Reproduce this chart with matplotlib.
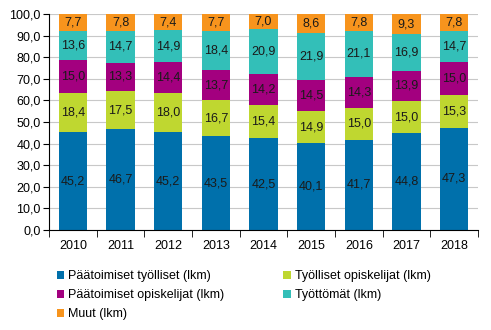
import matplotlib.pyplot as plt
import numpy as np

plt.rcParams['font.family'] = ['Liberation Sans', 'DejaVu Sans']

years = ['2010', '2011', '2012', '2013', '2014', '2015', '2016', '2017', '2018']
tyolliset = [45.2, 46.7, 45.2, 43.5, 42.5, 40.1, 41.7, 44.8, 47.3]
tyol_opisk = [18.4, 17.5, 18.0, 16.7, 15.4, 14.9, 15.0, 15.0, 15.3]
paat_opisk = [15.0, 13.3, 14.4, 13.7, 14.2, 14.5, 14.3, 13.9, 15.0]
tyottomat = [13.6, 14.7, 14.9, 18.4, 20.9, 21.9, 21.1, 16.9, 14.7]
muut = [7.7, 7.8, 7.4, 7.7, 7.0, 8.6, 7.8, 9.3, 7.8]

series = [tyolliset, tyol_opisk, paat_opisk, tyottomat, muut]
labels = ['Päätoimiset työlliset (lkm)', 'Työlliset opiskelijat (lkm)',
          'Päätoimiset opiskelijat (lkm)', 'Työttömät (lkm)', 'Muut (lkm)']
colors = ['#0070AB', '#BFD730', '#A3007F', '#33BFB8', '#F7941D']

fig = plt.figure(figsize=(4.91, 3.30), dpi=100)
ax = fig.add_axes([0.0998, 0.303, 0.8737, 0.6546])

x = np.arange(len(years))
bottom = np.zeros(len(years))
handles = []
for vals, lab, col in zip(series, labels, colors):
    bars = ax.bar(x, vals, 0.59, bottom=bottom, color=col, label=lab, zorder=2)
    handles.append(bars)
    for xi, b, v in zip(x, bottom, vals):
        ax.text(xi, b + v / 2, f'{v:.1f}'.replace('.', ','), ha='center', va='center',
                fontsize=9, color='#1a1a1a', zorder=3)
    bottom += np.array(vals)

ax.set_xlim(-0.5, len(years) - 0.5)
ax.set_ylim(0, 100)
ax.set_yticks(np.arange(0, 101, 10))
ax.set_yticklabels([f'{v:.1f}'.replace('.', ',') for v in np.arange(0, 101, 10)], fontsize=9)
ax.set_xticks(x)
ax.set_xticklabels(years, fontsize=9)
ax.set_xticks(np.arange(-0.5, len(years), 1), minor=True)
ax.tick_params(axis='x', which='major', length=0, pad=7)
ax.tick_params(axis='x', which='minor', length=5, color='black')
ax.tick_params(axis='y', length=4, pad=2)
ax.yaxis.grid(True, color='#c8c8c8', linewidth=0.8, zorder=0)
for s in ['top', 'right']:
    ax.spines[s].set_visible(False)
ax.spines['left'].set_color('black')
ax.spines['bottom'].set_color('black')

# legend fills column-wise, reorder so rows read like the reference
order = [0, 2, 4, 1, 3]
fig.legend([handles[i] for i in order], [labels[i] for i in order],
           loc='upper left', bbox_to_anchor=(0.105, 0.196), ncol=2,
           frameon=False, fontsize=9, handlelength=0.6, handleheight=0.6,
           handletextpad=0.3, columnspacing=4.75, labelspacing=0.55, borderaxespad=0)

fig.savefig('out.png', dpi=100)
